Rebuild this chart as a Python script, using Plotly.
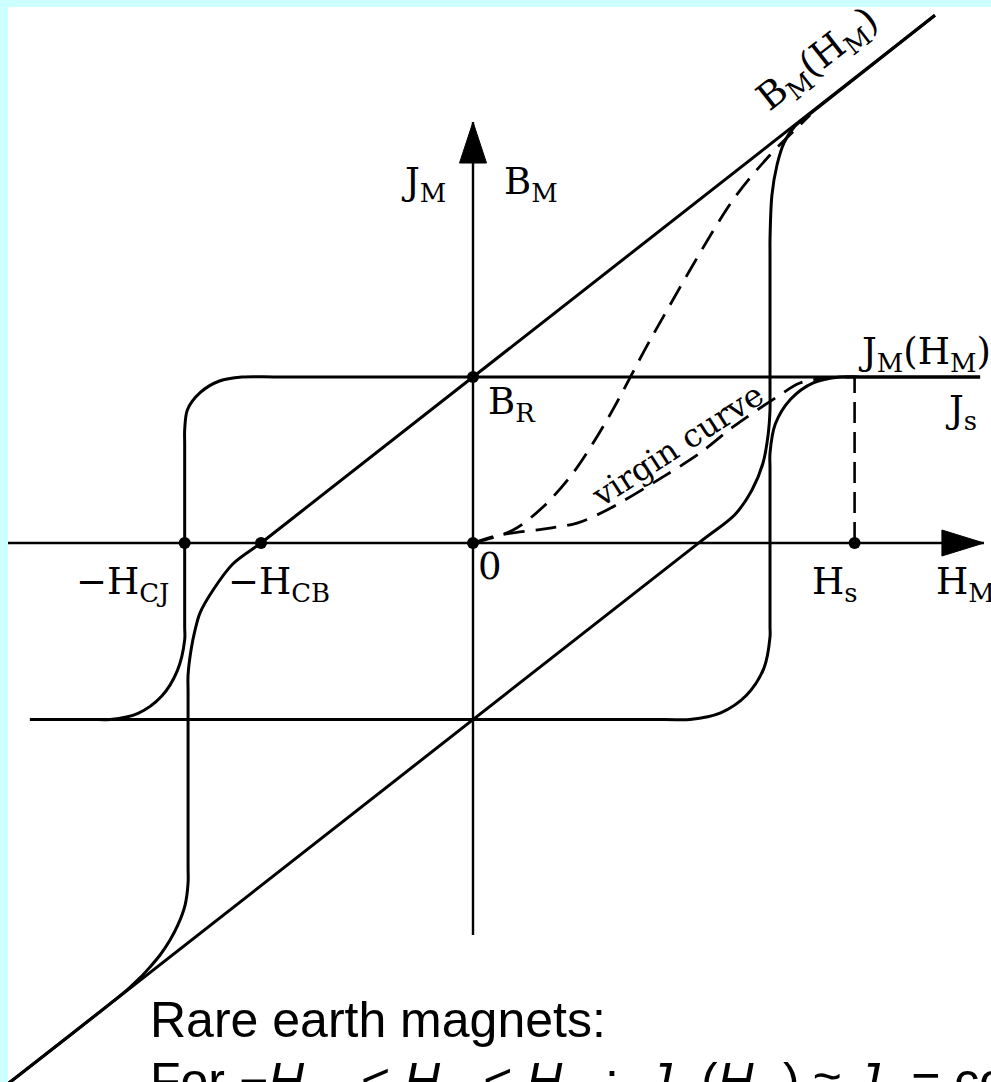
import plotly.graph_objects as go

# Units: J and B in units of the saturation polarisation J_s, H in units of J_s/mu0
J_S = 1.0          # upper saturation level (B_R on the B axis)
J_S_NEG = -1.063   # lower saturation level
H_CB = 1.0
H_CJ = 1.36
H_S = 1.8

# J_M(H_M) loop, descending branch (from +saturation to -saturation)
j_down_h = [2.392, -0.90, -1.090, -1.196, -1.286, -1.347, -1.360, -1.360, -1.360, -1.360,
            -1.394, -1.469, -1.580, -1.712, -1.80, -2.090]
j_down_j = [1.0, 1.0, 1.0, 0.976, 0.907, 0.803, 0.681, 0.60, -0.50, -0.584,
            -0.767, -0.923, -1.026, -1.063, -1.063, -1.063]

# J_M(H_M) loop, ascending branch
j_up_h = [-2.090, 0.90, 1.024, 1.168, 1.290, 1.372, 1.401, 1.401, 1.401, 1.401,
          1.426, 1.498, 1.605, 1.731, 1.85, 2.392]
j_up_j = [-1.063, -1.063, -1.063, -1.023, -0.917, -0.755, -0.566, -0.50, 0.45, 0.542,
          0.717, 0.866, 0.965, 1.0, 1.0, 1.0]

# B_M(H_M) loop, descending branch
b_down_h = [2.179, -0.816, -1.0, -1.132, -1.226, -1.288, -1.311, -1.330, -1.344, -1.344,
            -1.344, -1.344, -1.358, -1.392, -1.429, -1.476, -1.524, -1.571, -1.630, -2.20]
b_down_b = [3.179, 0.184, 0.0, -0.125, -0.283, -0.422, -0.524, -0.645, -0.795, -0.90,
            -1.95, -2.048, -2.181, -2.301, -2.392, -2.482, -2.555, -2.620, -2.690, -3.264]

# B_M(H_M) loop, ascending branch
b_up_h = [-2.20, 1.071, 1.236, 1.316, 1.368, 1.392, 1.401, 1.401, 1.401, 1.401,
          1.410, 1.434, 1.467, 1.519, 1.590, 2.179]
b_up_b = [-3.264, 0.007, 0.172, 0.319, 0.482, 0.651, 0.801, 0.90, 1.75, 1.825,
          2.096, 2.277, 2.410, 2.512, 2.585, 3.179]

# Virgin (initial magnetisation) curves
virgin_j_h = [0.0, 0.127, 0.330, 0.491, 0.632, 0.896, 1.071, 1.226, 1.434, 1.542, 1.670, 1.802]
virgin_j = [0.0, 0.048, 0.084, 0.120, 0.199, 0.398, 0.542, 0.699, 0.880, 0.964, 0.994, 1.0]
virgin_b_h = [0.0, 0.189, 0.330, 0.472, 0.632, 0.849, 1.226, 1.401, 1.542, 1.590]
virgin_b = [0.0, 0.078, 0.217, 0.422, 0.741, 1.253, 2.066, 2.337, 2.518, 2.578]

# Marked points: B_R, origin, -H_CJ, -H_CB, H_s
dot_h = [0.0, 0.0, -H_CJ, -H_CB, H_S]
dot_v = [J_S, 0.0, 0.0, 0.0, 0.0]

# Axis extents
X_RANGE = [-2.1934, 2.4434]
Y_RANGE = [-3.2470, 3.2289]
H_AXIS = [-2.20, 2.41]      # left end, arrow tip
V_AXIS = [-2.361, 2.536]    # bottom end, arrow tip

BLACK = "#000000"
LW = 3.0
AXW = 2.4
SERIF = "DejaVu Serif"
SANS = "Liberation Sans, Arial"

fig = go.Figure()


def curve(xs, ys, dash="solid", width=LW):
    fig.add_trace(go.Scatter(
        x=xs, y=ys, mode="lines",
        line=dict(color=BLACK, width=width, shape="spline", smoothing=0.9, dash=dash),
        hoverinfo="skip", showlegend=False))


# axes
fig.add_trace(go.Scatter(x=H_AXIS, y=[0, 0], mode="lines",
                         line=dict(color=BLACK, width=AXW), hoverinfo="skip", showlegend=False))
fig.add_trace(go.Scatter(x=[0, 0], y=V_AXIS, mode="lines",
                         line=dict(color=BLACK, width=AXW), hoverinfo="skip", showlegend=False))

# loops
curve(j_down_h, j_down_j)
curve(j_up_h, j_up_j)
curve(b_down_h, b_down_b)
curve(b_up_h, b_up_b)

# virgin curves and H_s marker
curve(virgin_j_h, virgin_j, dash="21px,11px", width=2.8)
curve(virgin_b_h, virgin_b, dash="21px,11px", width=2.8)
fig.add_trace(go.Scatter(x=[H_S, H_S], y=[0, J_S], mode="lines",
                         line=dict(color=BLACK, width=2.6, dash="21px,9px"),
                         hoverinfo="skip", showlegend=False))

fig.add_trace(go.Scatter(x=dot_h, y=dot_v, mode="markers",
                         marker=dict(color=BLACK, size=12), hoverinfo="skip", showlegend=False))

# arrow heads (sizes in data units: 212 px per H unit, 166 px per J unit)
ah_len_x, ah_half_y = 42 / 212, 13 / 166
av_len_y, av_half_x = 41 / 166, 13.5 / 212
fig.add_shape(type="path",
              path=(f"M {H_AXIS[1]} 0 L {H_AXIS[1]-ah_len_x} {ah_half_y} "
                    f"L {H_AXIS[1]-ah_len_x} {-ah_half_y} Z"),
              fillcolor=BLACK, line=dict(color=BLACK, width=1))
fig.add_shape(type="path",
              path=(f"M 0 {V_AXIS[1]} L {-av_half_x} {V_AXIS[1]-av_len_y} "
                    f"L {av_half_x} {V_AXIS[1]-av_len_y} Z"),
              fillcolor=BLACK, line=dict(color=BLACK, width=1))


def label(text, x, y, xanchor="left", size=37, angle=0, family=SERIF, yanchor="middle",
          yshift=0):
    fig.add_annotation(x=x, y=y, xref="x", yref="y", text=text, showarrow=False,
                       xanchor=xanchor, yanchor=yanchor, textangle=angle, yshift=yshift,
                       font=dict(family=family, size=size, color=BLACK))


label("J<sub>M</sub>", -0.118, 2.165, xanchor="right")
label("B<sub>M</sub>", 0.138, 2.165)
label("B<sub>R</sub>", 0.062, 0.835)
label("0", 0.015, -0.140)
label("−H<sub>CJ</sub>", -1.425, -0.245, xanchor="right")
label("−H<sub>CB</sub>", -1.165, -0.245)
label("H<sub>s</sub>", 1.708, -0.245, xanchor="center")
label("H<sub>M</sub>", 2.175, -0.245)
label("J<sub>s</sub>", 2.302, 0.790, xanchor="center")
label("J<sub>M</sub>(H<sub>M</sub>)", 1.806, 1.140)
label("B<sub>M</sub>(H<sub>M</sub>)", 1.628, 2.905, xanchor="center", angle=-38)
label("virgin curve", 0.965, 0.590, xanchor="center", size=32, angle=-33)

label("Rare earth magnets:", -1.533, -2.873, size=50, family=SANS)
label("For −<i>H</i><sub>CJ</sub> &lt; <i>H</i><sub>M</sub> &lt; <i>H</i><sub>CJ</sub>:  "
      "<i>J</i><sub>M</sub>(<i>H</i><sub>M</sub>) ≈ <i>J</i><sub>s</sub> = const",
      -1.533, -3.235, size=50, family=SANS, yshift=-4)

fig.update_layout(
    width=991, height=1082,
    margin=dict(l=8, r=0, t=7, b=0, pad=0),
    paper_bgcolor="#ccffff", plot_bgcolor="#ffffff",
    showlegend=False,
    xaxis=dict(range=X_RANGE, visible=False, showgrid=False, zeroline=False),
    yaxis=dict(range=Y_RANGE, visible=False, showgrid=False, zeroline=False),
)

fig.write_html("out.html")
